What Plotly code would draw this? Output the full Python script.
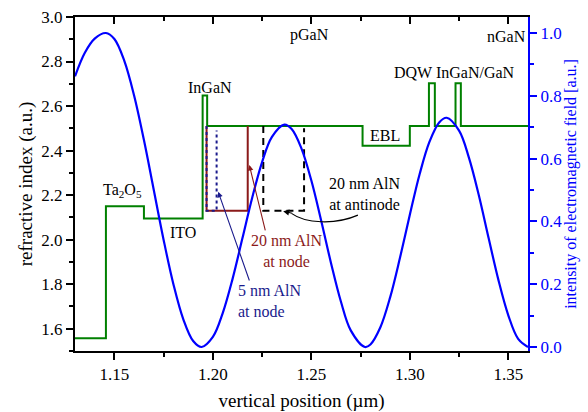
import plotly.graph_objects as go

# Refractive index profile (step function)
layer_x = [1.13, 1.1457, 1.165, 1.1948, 1.1971, 1.276, 1.300, 1.3097, 1.3127, 1.3232, 1.3259, 1.36]
layer_n = [1.557, 2.150, 2.095, 2.647, 2.511, 2.422, 2.511, 2.703, 2.511, 2.703, 2.511, 2.511]

# AlN insertions (refractive index outlines)
aln20_node_x = [1.1968, 1.1968, 1.2177, 1.2177]
aln20_node_n = [2.511, 2.130, 2.130, 2.511]
aln5_node_x = [1.1968, 1.1968, 1.2019, 1.2019]
aln5_node_n = [2.511, 2.130, 2.130, 2.490]
aln20_anti_x = [1.2256, 1.2256, 1.2463, 1.2463]
aln20_anti_n = [2.511, 2.130, 2.130, 2.500]

# Electromagnetic field intensity
field_x = [1.130, 1.135, 1.140, 1.1457, 1.150, 1.155, 1.160, 1.165, 1.170, 1.175, 1.180, 1.185,
           1.190, 1.1943, 1.200, 1.205, 1.210, 1.215, 1.220, 1.225, 1.230, 1.2363, 1.240, 1.245,
           1.250, 1.255, 1.260, 1.265, 1.270, 1.2772, 1.280, 1.285, 1.290, 1.295, 1.300, 1.305,
           1.310, 1.315, 1.3187, 1.325, 1.330, 1.335, 1.340, 1.345, 1.350, 1.355, 1.360]
field_I = [0.862, 0.937, 0.982, 1.000, 0.981, 0.912, 0.801, 0.659, 0.500, 0.341, 0.199, 0.088,
           0.019, 0.000, 0.032, 0.108, 0.217, 0.346, 0.476, 0.589, 0.669, 0.708, 0.694, 0.632,
           0.530, 0.402, 0.267, 0.145, 0.053, 0.000, 0.008, 0.062, 0.158, 0.284, 0.421, 0.551,
           0.654, 0.716, 0.730, 0.689, 0.603, 0.484, 0.347, 0.213, 0.101, 0.026, 0.000]

GREEN = "#008000"
RED = "#8b1a1a"
NAVY = "#1a1a8c"
BLUE = "#0000ff"
FONT = "Liberation Serif"

fig = go.Figure()
fig.add_trace(go.Scatter(x=layer_x, y=layer_n, mode="lines", line=dict(color=GREEN, width=2, shape="hv"),
                         showlegend=False, hoverinfo="skip"))
fig.add_trace(go.Scatter(x=aln20_node_x, y=aln20_node_n, mode="lines", line=dict(color=RED, width=2),
                         showlegend=False))
fig.add_trace(go.Scatter(x=aln5_node_x, y=aln5_node_n, mode="lines",
                         line=dict(color=NAVY, width=2, dash="3px,3px"), showlegend=False))
fig.add_trace(go.Scatter(x=aln20_anti_x, y=aln20_anti_n, mode="lines",
                         line=dict(color="black", width=2, dash="7px,5px"), showlegend=False))
fig.add_trace(go.Scatter(x=field_x, y=field_I, mode="lines", line=dict(color=BLUE, width=2.2, shape="spline"),
                         yaxis="y2", showlegend=False))
# invisible trace for top axis
fig.add_trace(go.Scatter(x=[1.13, 1.36], y=[2, 2], mode="lines", line=dict(width=0), opacity=0,
                         xaxis="x2", showlegend=False, hoverinfo="skip"))

labels = [
    ("Ta<sub>2</sub>O<sub>5</sub>", 1.1539, 2.222, "black"),
    ("ITO", 1.1848, 2.033, "black"),
    ("InGaN", 1.1985, 2.682, "black"),
    ("pGaN", 1.2493, 2.920, "black"),
    ("nGaN", 1.3493, 2.911, "black"),
    ("DQW InGaN/GaN", 1.3229, 2.749, "black"),
    ("EBL", 1.2874, 2.470, "black"),
    ("20 nm AlN<br>at antinode", 1.2770, 2.207, "black"),
    ("20 nm AlN<br>at node", 1.2376, 1.948, RED),
    ("5 nm AlN<br>at node", 1.2290, 1.723, NAVY),
]
for txt, x, y, c in labels:
    fig.add_annotation(x=x, y=y, text=txt, showarrow=False, xanchor="center", yanchor="middle",
                       font=dict(family=FONT, size=16, color=c),
                       align="left" if "5 nm" in txt else "center")

# arrows
fig.add_annotation(x=1.2185, y=2.335, ax=1.2268, ay=2.035, axref="x", ayref="y", xref="x", yref="y",
                   text="", showarrow=True, arrowhead=2, arrowsize=1, arrowwidth=1.1, arrowcolor=RED, standoff=0)
fig.add_annotation(x=1.2027, y=2.215, ax=1.2188, ay=1.810, axref="x", ayref="y", xref="x", yref="y",
                   text="", showarrow=True, arrowhead=2, arrowsize=1, arrowwidth=1.1, arrowcolor=NAVY, standoff=0)
fig.add_shape(type="path", xref="x", yref="y",
              path="M 1.27365,2.110 C 1.26198,2.065 1.24675,2.074 1.2401,2.117",
              line=dict(color="black", width=1.2))
fig.add_annotation(x=1.2357, y=2.128, ax=1.2410, ay=2.117, axref="x", ayref="y", xref="x", yref="y",
                   text="", showarrow=True, arrowhead=2, arrowsize=1, arrowwidth=1.2, arrowcolor="black", standoff=0)

fig.update_layout(
    width=588, height=412,
    margin=dict(l=75, r=60, t=17, b=61),
    paper_bgcolor="white", plot_bgcolor="white",
    font=dict(family=FONT, size=17, color="black"),
    xaxis=dict(range=[1.13, 1.36], tick0=1.15, dtick=0.05, tickformat=".2f", automargin=False,
               showline=True, linecolor="black", linewidth=2, ticks="outside", ticklen=7, tickwidth=1.5,
               tickcolor="black", showgrid=False, zeroline=False,
               minor=dict(ticks="outside", ticklen=4, dtick=0.025, tick0=1.15, tickcolor="black", tickwidth=1.5),
               title=dict(text="vertical position (µm)", font=dict(size=19), standoff=12),
               tickfont=dict(size=17)),
    xaxis2=dict(range=[1.13, 1.36], overlaying="x", side="top", tick0=1.15, dtick=0.05, automargin=False,
                showline=True, linecolor="black", linewidth=2, ticks="inside", ticklen=7, tickwidth=1.5,
                tickcolor="black", showticklabels=False, showgrid=False, zeroline=False,
                minor=dict(ticks="inside", ticklen=4, dtick=0.025, tick0=1.15, tickcolor="black", tickwidth=1.5)),
    yaxis=dict(range=[1.5, 3.0], tick0=1.6, dtick=0.2, tickformat=".1f", automargin=False,
               showline=True, linecolor="black", linewidth=2, ticks="outside", ticklen=7, tickwidth=1.5,
               tickcolor="black", showgrid=False, zeroline=False,
               minor=dict(ticks="outside", ticklen=4, dtick=0.1, tick0=1.5, tickcolor="black", tickwidth=1.5),
               title=dict(text="refractive index (a.u.)", font=dict(size=19), standoff=4),
               tickfont=dict(size=17)),
    yaxis2=dict(range=[-0.0128, 1.051], overlaying="y", side="right", tick0=0, dtick=0.2, tickformat=".1f",
                automargin=False,
                showline=True, linecolor=BLUE, linewidth=2, ticks="outside", ticklen=7, tickwidth=1.5,
                tickcolor=BLUE, showgrid=False, zeroline=False,
                minor=dict(ticks="outside", ticklen=4, dtick=0.1, tick0=0, tickcolor=BLUE, tickwidth=1.5),
                tickfont=dict(size=17, color=BLUE),
                title=dict(text="intensity of electromagnetic field [a.u.]", font=dict(size=16, color=BLUE),
                           standoff=4)),
)

fig.write_html("out.html", config={"displayModeBar": False},
               post_script="document.body.style.margin='0px';document.body.style.overflow='hidden';")
